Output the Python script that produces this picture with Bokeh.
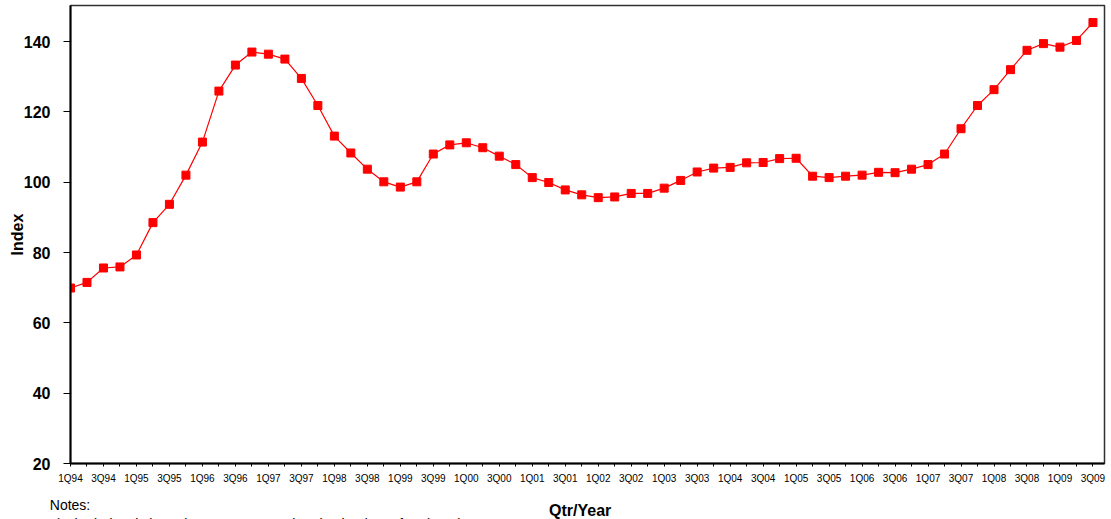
from bokeh.plotting import figure
from bokeh.models import Range1d, FixedTicker, Label, ColumnDataSource
from bokeh.layouts import column
from bokeh.embed import file_html
from bokeh.resources import INLINE

quarters = [
    "1Q94", "2Q94", "3Q94", "4Q94", "1Q95", "2Q95", "3Q95", "4Q95",
    "1Q96", "2Q96", "3Q96", "4Q96", "1Q97", "2Q97", "3Q97", "4Q97",
    "1Q98", "2Q98", "3Q98", "4Q98", "1Q99", "2Q99", "3Q99", "4Q99",
    "1Q00", "2Q00", "3Q00", "4Q00", "1Q01", "2Q01", "3Q01", "4Q01",
    "1Q02", "2Q02", "3Q02", "4Q02", "1Q03", "2Q03", "3Q03", "4Q03",
    "1Q04", "2Q04", "3Q04", "4Q04", "1Q05", "2Q05", "3Q05", "4Q05",
    "1Q06", "2Q06", "3Q06", "4Q06", "1Q07", "2Q07", "3Q07", "4Q07",
    "1Q08", "2Q08", "3Q08", "4Q08", "1Q09", "2Q09", "3Q09",
]

index_values = [
    69.9, 71.5, 75.6, 75.9, 79.3, 88.5, 93.7, 102.0, 111.4, 125.9,
    133.3, 137.0, 136.4, 135.0, 129.5, 121.8, 113.1, 108.3, 103.7, 100.1,
    98.6, 100.1, 108.0, 110.6, 111.2, 109.8, 107.4, 105.0, 101.3, 99.9,
    97.8, 96.4, 95.6, 95.8, 96.8, 96.8, 98.3, 100.5, 102.9, 104.0,
    104.2, 105.5, 105.6, 106.7, 106.8, 101.7, 101.3, 101.7, 102.0, 102.8,
    102.7, 103.7, 105.0, 108.0, 115.2, 121.8, 126.3, 132.0, 137.5, 139.4,
    138.4, 140.3, 145.4,
]

y_ticks = [20, 40, 60, 80, 100, 120, 140]

x_title = "Qtr/Year"
y_title = "Index"
notes_head = "Notes:"
notes_line = "1) The index. is based on average resale price by date of registration"

positions = list(range(len(quarters)))
source = ColumnDataSource(dict(x=positions, y=index_values, q=quarters))

FONT = "Liberation Sans"

p = figure(
    width=1108, height=487,
    output_backend="svg", toolbar_location=None,
    x_range=Range1d(0, 62.7), y_range=Range1d(20, 150.24),
    min_border_left=70, min_border_right=4,
    min_border_top=5, min_border_bottom=24,
    background_fill_color="white", border_fill_color="white",
)
p.frame_align = False
p.grid.visible = False
p.outline_line_color = "#303030"
p.outline_line_width = 1.5

p.line("x", "y", source=source, line_color="#FF0000", line_width=1.2)
p.scatter("x", "y", source=source, marker="square", size=8,
          fill_color="#FF0000", line_color="#FF0000")

# x axis
xa = p.xaxis[0]
xa.ticker = FixedTicker(ticks=positions)
xa.major_label_overrides = {i: (q if i % 2 == 0 else "") for i, q in enumerate(quarters)}
xa.major_tick_out = 3
xa.major_tick_in = 0
xa.minor_tick_out = 0
xa.minor_tick_in = 0
xa.axis_line_color = "black"
xa.axis_line_width = 2
xa.major_tick_line_color = "black"
xa.major_label_text_font = FONT
xa.major_label_text_font_size = "10px"
xa.major_label_text_color = "black"
xa.major_label_standoff = 6

# y axis
ya = p.yaxis[0]
ya.ticker = FixedTicker(ticks=y_ticks)
ya.major_tick_out = 7
ya.major_tick_in = 0
ya.minor_tick_out = 0
ya.minor_tick_in = 0
ya.axis_line_color = "black"
ya.axis_line_width = 2
ya.major_tick_line_color = "black"
ya.major_label_text_font = FONT
ya.major_label_text_font_size = "16px"
ya.major_label_text_font_style = "bold"
ya.major_label_text_color = "black"
ya.major_label_standoff = 13
ya.axis_label = y_title
ya.axis_label_text_font = FONT
ya.axis_label_text_font_size = "16px"
ya.axis_label_text_font_style = "bold"
ya.axis_label_text_color = "black"
ya.axis_label_standoff = -5

# bottom strip: x-axis title and notes (pixel-mapped ranges)
n = figure(
    width=1108, height=32,
    output_backend="svg", toolbar_location=None,
    x_range=Range1d(0, 1108), y_range=Range1d(0, 32),
    x_axis_location=None, y_axis_location=None,
    min_border_left=0, min_border_right=0, min_border_top=0, min_border_bottom=0,
    background_fill_color="white", border_fill_color="white",
)
n.frame_align = False
n.grid.visible = False
n.outline_line_color = None

n.add_layout(Label(x=579.7, y=9, text=x_title,
                   text_align="center", text_baseline="alphabetic",
                   text_font=FONT, text_font_size="16px", text_font_style="bold",
                   text_color="black"))
n.add_layout(Label(x=49.3, y=14.7, text=notes_head,
                   text_align="left", text_baseline="alphabetic",
                   text_font=FONT, text_font_size="14px", text_color="black"))
n.add_layout(Label(x=49.3, y=-4, text=notes_line,
                   text_align="left", text_baseline="alphabetic",
                   text_font=FONT, text_font_size="14px", text_color="black"))

layout = column(p, n, spacing=0)
open("out.html", "w").write(file_html(layout, INLINE))
